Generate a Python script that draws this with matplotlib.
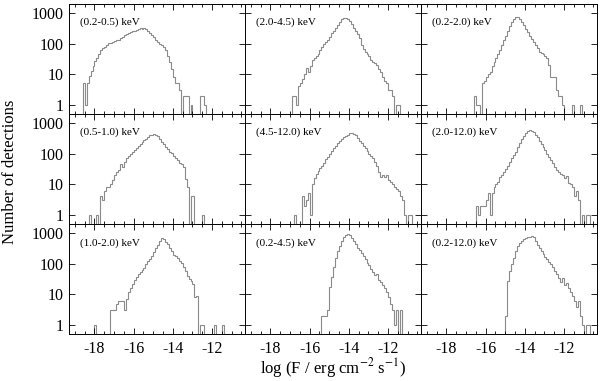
import numpy as np
import matplotlib
matplotlib.use("Agg")
import matplotlib.pyplot as plt
from matplotlib.ticker import FixedLocator, MultipleLocator, LogLocator, NullFormatter

plt.rcParams['font.family'] = ['Liberation Serif', 'DejaVu Serif']
plt.rcParams['mathtext.fontset'] = 'stix'
plt.rcParams['axes.unicode_minus'] = False

bin_width = 0.1

# band labels, row by row
bands = ["(0.2-0.5) keV", "(2.0-4.5) keV", "(0.2-2.0) keV",
         "(0.5-1.0) keV", "(4.5-12.0) keV", "(2.0-12.0) keV",
         "(1.0-2.0) keV", "(0.2-4.5) keV", "(0.2-12.0) keV"]

# left edge of the first bin in each panel (log flux)
starts = [-18.6, -16.9, -16.6,
          -18.3, -16.8, -16.5,
          -18.0, -15.4, -15.0]

counts_02_05 = [5, 1, 5, 9, 13, 18, 26, 34, 45, 63, 72, 80, 90, 102, 108, 112, 120, 128, 135, 150,
                170, 185, 200, 218, 235, 250, 265, 285, 300, 316, 310, 318, 300, 250, 215, 185, 160, 135,
                115, 100, 88, 78, 60, 38, 25, 15, 8, 5, 5, 3, 0, 2, 2, 2, 0, 1, 0, 0, 0, 0, 2, 2, 1]
counts_20_45 = [2, 2, 1, 4, 5, 7, 10, 16, 12, 18, 30, 34, 40, 45, 60, 80, 95, 115, 135, 170,
                215, 260, 330, 400, 500, 620, 680, 710, 660, 560, 450, 330, 260, 200, 150, 90, 65, 55,
                45, 38, 30, 25, 24, 20, 15, 12, 8, 6, 5, 3, 3, 2, 0, 1, 1]
counts_02_20 = [2, 1, 1, 0, 5, 6, 8, 10, 12, 18, 25, 34, 45, 60, 90, 130, 180, 260, 370, 520,
                650, 740, 720, 640, 500, 400, 310, 240, 180, 140, 115, 90, 70, 55, 48, 45, 38, 34, 20,
                8, 8, 8, 3, 2, 2, 1, 0, 0, 0, 0, 1, 0, 0, 0, 1]
counts_05_10 = [1, 0, 0, 0, 1, 0, 4, 3, 6, 8, 8, 10, 14, 20, 25, 30, 45, 38, 55, 70,
                85, 100, 115, 130, 150, 180, 210, 250, 280, 300, 350, 400, 420, 430, 420, 380, 300, 250,
                200, 160, 140, 115, 105, 85, 70, 60, 50, 45, 36, 15, 8, 0, 4, 4, 0, 0, 0, 0, 1]
counts_45_120 = [1, 0, 0, 0, 4, 2, 3, 5, 1, 10, 16, 22, 28, 34, 40, 50, 65, 80, 100, 120,
                 150, 180, 220, 260, 300, 340, 380, 420, 460, 470, 450, 400, 330, 270, 220, 180, 150, 120,
                 100, 85, 70, 55, 40, 25, 17, 20, 17, 20, 14, 12, 10, 8, 7, 6, 4, 3, 1, 0, 1, 1]
counts_20_120 = [2, 1, 2, 2, 2, 3, 5, 1, 5, 8, 10, 12, 17, 20, 25, 32, 41, 55, 70, 90,
                 115, 160, 220, 300, 380, 460, 540, 580, 560, 500, 420, 350, 270, 210, 170, 130, 100, 80,
                 60, 48, 38, 30, 25, 22, 20, 16, 18, 11, 10, 8, 4, 6, 3, 0, 1, 0, 1, 1]
counts_10_20 = [1, 0, 0, 0, 0, 0, 0, 0, 3, 3, 3, 5, 6, 6, 6, 3, 7, 12, 16, 22,
                30, 36, 45, 53, 62, 75, 97, 120, 141, 180, 235, 336, 420, 560, 700, 670, 520, 432, 330,
                263, 200, 180, 150, 125, 110, 80, 59, 40, 32, 28, 22, 8, 9, 0, 1, 1, 0, 0, 0, 0, 0,
                1, 0, 0, 0, 1]
counts_02_45 = [2, 2, 2, 3, 17, 36, 76, 160, 260, 380, 550, 740, 880, 910, 870, 720, 560, 430, 340, 280,
                220, 180, 140, 110, 90, 70, 55, 42, 47, 30, 25, 20, 16, 12, 8, 5, 3, 1, 3, 0, 3]
counts_02_120 = [2, 28, 60, 100, 160, 260, 380, 480, 560, 630, 680, 740, 760, 800, 780, 560, 420, 330, 260, 210,
                 170, 140, 115, 95, 80, 60, 45, 35, 25, 35, 20, 24, 16, 12, 9, 6, 4, 6, 2, 1, 0, 1, 1]

all_counts = [counts_02_05, counts_20_45, counts_02_20,
              counts_05_10, counts_45_120, counts_20_120,
              counts_10_20, counts_02_45, counts_02_120]

fig, axes = plt.subplots(3, 3, figsize=(6.0, 3.81), dpi=100, sharex=True, sharey=True)
fig.subplots_adjust(left=0.115, right=0.995, top=0.99, bottom=0.123, wspace=0, hspace=0)

for k, ax in enumerate(axes.flat):
    counts = np.array(all_counts[k], dtype=float)
    edges = starts[k] + bin_width * np.arange(len(counts) + 1)
    # empty bins drop below the axis floor
    ax.stairs(np.maximum(counts, 0.1), edges, baseline=0.1, color='#8a8a8a', lw=0.8)
    ax.set_yscale('log')
    ax.set_xlim(-19.3, -10.32)
    ax.set_ylim(0.5, 2000)
    ax.text(0.06, 0.83, bands[k], transform=ax.transAxes, fontsize=8, ha='left', va='center')

    ax.xaxis.set_major_locator(FixedLocator([-18, -16, -14, -12]))
    ax.xaxis.set_minor_locator(MultipleLocator(0.5))
    ax.yaxis.set_major_locator(FixedLocator([1, 10, 100, 1000]))
    ax.yaxis.set_minor_locator(LogLocator(base=10, subs=np.arange(2, 10)))
    ax.yaxis.set_minor_formatter(NullFormatter())
    ax.tick_params(which='both', direction='in', top=True, right=True, width=0.6)
    ax.tick_params(which='major', length=4, labelsize=11.5)
    ax.tick_params(which='minor', length=2)
    ax.tick_params(axis='x', pad=5)
    ax.set_yticklabels(['1', '10', '100', '1000'])
    for s in ax.spines.values():
        s.set_linewidth(0.7)

fig.text(333 / 600, 1 - 368 / 381, "log (F / erg cm$^{-2}$ s$^{-1}$)", ha='center', va='center', fontsize=12)
fig.text(10 / 600, 1 - 172 / 381, "Number of detections", rotation=90, ha='center', va='center', fontsize=12)

fig.savefig("out.png", dpi=100)
